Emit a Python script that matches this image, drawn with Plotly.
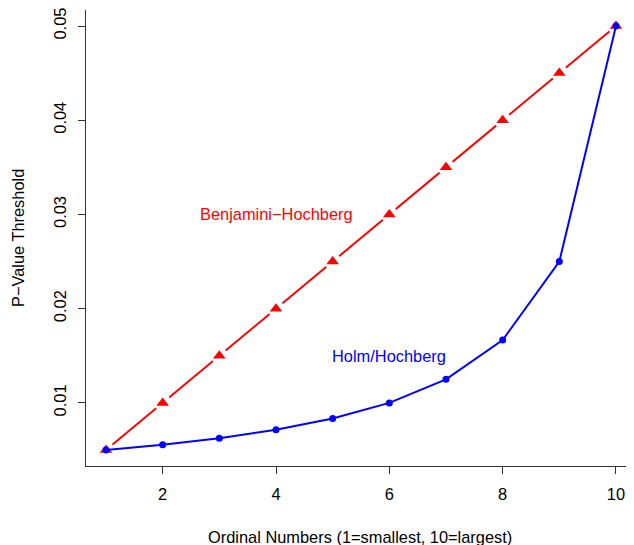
import plotly.graph_objects as go

ordinal = [1, 2, 3, 4, 5, 6, 7, 8, 9, 10]
bh_threshold = [0.005, 0.010, 0.015, 0.020, 0.025, 0.030, 0.035, 0.040, 0.045, 0.050]
holm_threshold = [0.005, 0.005556, 0.00625, 0.007143, 0.008333, 0.010, 0.0125, 0.016667, 0.025, 0.050]
x_ticks = [2, 4, 6, 8, 10]
y_ticks = [0.01, 0.02, 0.03, 0.04, 0.05]
y_tick_labels = ["0.01", "0.02", "0.03", "0.04", "0.05"]

FONT = "Liberation Sans, Arial, Helvetica, sans-serif"
FS = 16.4

fig = go.Figure()
# Red BH line (type "b": gaps around points)
fig.add_trace(go.Scatter(x=ordinal, y=bh_threshold, mode="lines",
                         line=dict(color="#ff0000", width=2), hoverinfo="skip", showlegend=False))
fig.add_trace(go.Scatter(x=ordinal, y=bh_threshold, mode="markers",
                         marker=dict(symbol="circle", size=17, color="white"),
                         hoverinfo="skip", showlegend=False))
fig.add_trace(go.Scatter(x=ordinal, y=bh_threshold, mode="markers",
                         marker=dict(symbol="triangle-up", size=11, color="#ff0000"),
                         showlegend=False))
# Blue Holm line (type "o")
fig.add_trace(go.Scatter(x=ordinal, y=holm_threshold, mode="lines+markers",
                         line=dict(color="#0000ff", width=2),
                         marker=dict(symbol="circle", size=7, color="#0000ff"),
                         showlegend=False))

fig.add_annotation(x=4.0, y=0.030, text="Benjamini\u2212Hochberg", showarrow=False,
                   font=dict(family=FONT, size=FS, color="#ff0000"))
fig.add_annotation(x=6.0, y=0.015, text="Holm/Hochberg", showarrow=False,
                   font=dict(family=FONT, size=FS, color="#0000ff"))

# Axis titles
fig.add_annotation(xref="paper", yref="paper", x=0.5, y=-0.156, yanchor="middle",
                   text="Ordinal Numbers (1=smallest, 10=largest)", showarrow=False,
                   font=dict(family=FONT, size=FS, color="black"))
fig.add_annotation(xref="paper", yref="paper", x=-0.124, y=0.5, xanchor="center",
                   text="P\u2212Value Threshold", textangle=-90, showarrow=False,
                   font=dict(family=FONT, size=FS, color="black"))

# page body has an 8px margin: figure occupies (8,8)-(634,545)
fig.update_layout(
    width=626, height=537,
    margin=dict(l=78, r=0, t=2, b=79),
    paper_bgcolor="white", plot_bgcolor="white",
    font=dict(family=FONT, size=FS, color="black"),
    xaxis=dict(range=[0.647, 10.318], tickvals=x_ticks, ticks="outside", ticklen=7,
               tickcolor="#333", showline=True, linecolor="#333", linewidth=1,
               showgrid=False, zeroline=False, ticklabelstandoff=6,
               ticklabeloverflow="allow"),
    yaxis=dict(range=[0.0033, 0.0517], tickvals=y_ticks, ticktext=y_tick_labels,
               ticks="outside", ticklen=7, tickcolor="#333", tickangle=-90,
               showline=True, linecolor="#333", linewidth=1,
               showgrid=False, zeroline=False, ticklabelstandoff=5,
               ticklabeloverflow="allow"),
)

fig.write_html("out.html")
